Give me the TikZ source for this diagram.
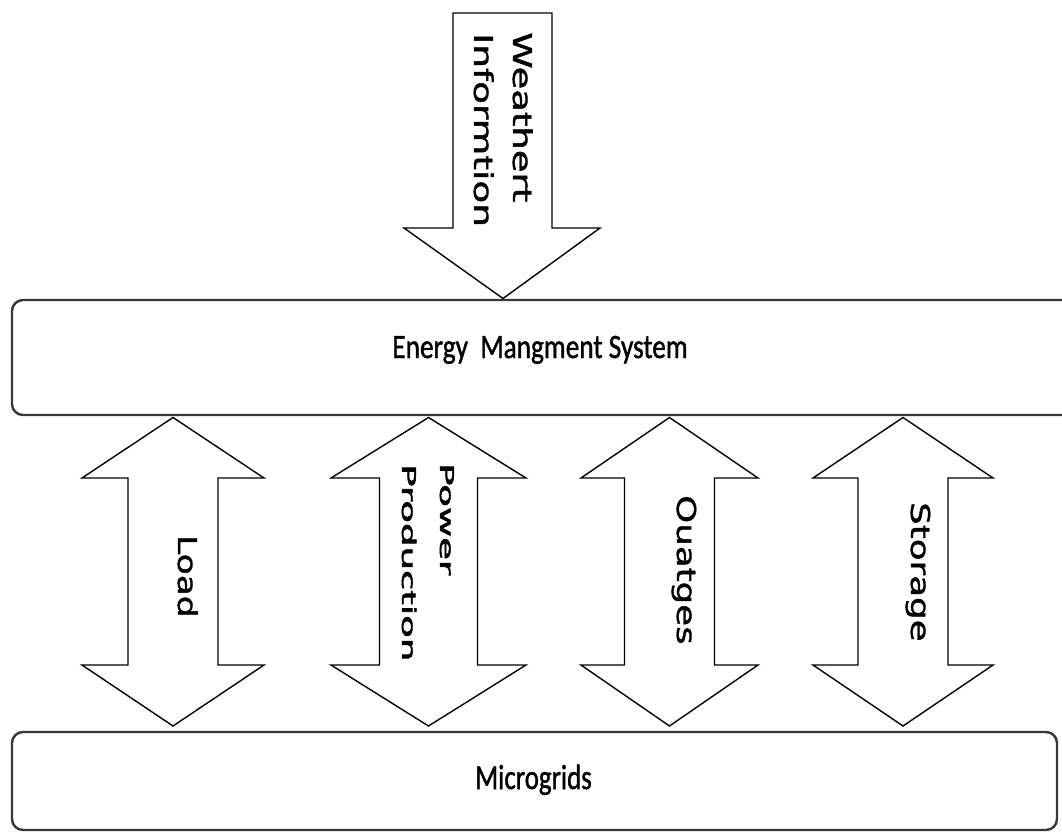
\documentclass[tikz,border=0pt]{standalone}
\usepackage{fontspec}
\usepackage{graphicx}
\newfontfamily\vfont[FakeBold=1.3]{DejaVu Sans}
\newfontfamily\vfontb[FakeBold=2.2]{DejaVu Sans}
\newfontfamily\hfont[FakeBold=1.4]{Carlito}
\tikzset{
  boxnode/.style={draw=black!78, line width=2.4pt, rounded corners=11pt, inner sep=0pt},
  blockarrow/.style={draw=black, line width=1.4pt, fill=white, line join=miter},
  vlabel/.style={rotate=-90, anchor=base west, inner sep=0pt},
  hlabel/.style={anchor=base, inner sep=0pt}
}
\begin{document}
\begin{tikzpicture}[x=1pt,y=-1pt]
\clip (0,0) rectangle (1062,832);
\fill[white] (0,0) rectangle (1062,832);

% boxes
\node[boxnode, minimum width=1070pt, minimum height=115pt] (ems) at (547,357.5) {};
\node[boxnode, minimum width=1045pt, minimum height=98pt] (mg) at (534.5,781) {};

% top arrow
\draw[blockarrow] (453,13) -- (552,13) -- (552,228) -- (600,228) -- (503,298.5)
  -- (404,228) -- (453,228) -- cycle;

% double arrows
\newcommand{\dblarrow}[3]{%
  \draw[blockarrow] (#1,417.5) -- (#1+#2,478) -- (#1+#3,478) -- (#1+#3,665)
   -- (#1+#2,665) -- (#1,726) -- (#1-#2,665) -- (#1-#3,665) -- (#1-#3,478)
   -- (#1-#2,478) -- cycle;}
\dblarrow{173}{91}{45}
\dblarrow{428.5}{97.5}{49}
\dblarrow{669.5}{88.5}{45}
\dblarrow{903}{90}{45}

% labels
\node[hlabel] (emst) at (540,358) {\scalebox{1}[1.25]{\fontsize{27.3}{27.3}\hfont Energy\ \ Mangment System}};
\node[hlabel] (mgt) at (533.5,789) {\scalebox{1}[1.3]{\fontsize{26.9}{26.9}\hfont Microgrids}};

\node[vlabel] (w1) at (513,32) {\scalebox{1.42}[1]{\fontsize{26}{26}\vfont Weathert}};
\node[vlabel] (w2) at (474,33) {\scalebox{1.44}[1]{\fontsize{26}{26}\vfont Informtion}};
\node[vlabel] (ld) at (178,535) {\scalebox{1.32}[1]{\fontsize{26}{26}\vfont Load}};
\node[vlabel] (p1) at (440,463) {\scalebox{1.95}[1]{\fontsize{19}{19}\vfontb Power}};
\node[vlabel] (p2) at (402,464) {\scalebox{1.95}[1]{\fontsize{19}{19}\vfontb Production}};
\node[vlabel] (ou) at (677,495) {\scalebox{1.37}[1]{\fontsize{26}{26}\vfont Ouatges}};
\node[vlabel] (st) at (911,502) {\scalebox{1.37}[1]{\fontsize{26}{26}\vfont Storage}};
\end{tikzpicture}
\end{document}
